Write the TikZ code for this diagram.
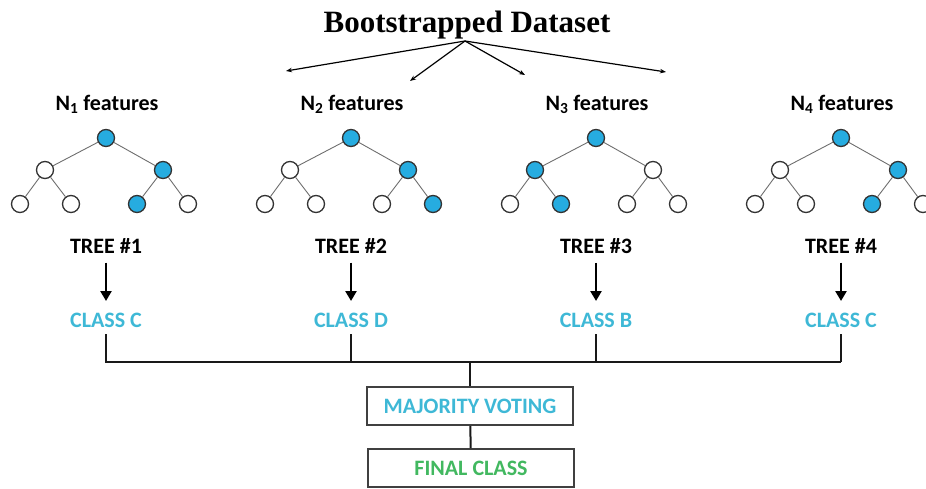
\documentclass[tikz,border=0pt]{standalone}
\usepackage{fontspec}
\setmainfont{Carlito}
\newfontfamily\titlefont{Liberation Serif}
\usetikzlibrary{arrows.meta}
\definecolor{nodeblue}{RGB}{38,172,224}
\definecolor{classblue}{RGB}{62,184,214}
\definecolor{finalgreen}{RGB}{66,184,96}
\definecolor{edgegray}{RGB}{110,110,110}

\begin{document}
\begin{tikzpicture}
[x=1pt,y=-1pt
,fn/.style={circle,draw=black!80,line width=1.3pt,fill=white,minimum size=17pt,inner sep=0pt}
,hit/.style={fn,fill=nodeblue}
,te/.style={draw=edgegray,line width=0.9pt}
,lbl/.style={font=\bfseries\fontsize{22}{24}\selectfont,inner sep=1pt}
,cls/.style={lbl,text=classblue}
,sa/.style={draw=black,line width=1.2pt,arrows={-Stealth[length=6pt,width=4.5pt]}}
,va/.style={draw=black,line width=2.6pt,arrows={-Triangle[length=10pt,width=11pt]}}
,bus/.style={draw=black!90,line width=2pt}
,vbox/.style={draw=black!75,line width=1.6pt,minimum width=206pt,minimum height=38pt,font=\bfseries\fontsize{22}{24}\selectfont}]
\useasboundingbox (0,0) rectangle (926,489);
% title and bootstrap arrows
\node[font=\titlefont\bfseries\fontsize{31}{34}\selectfont] (ds) at (467,25) {Bootstrapped Dataset};
\coordinate (src) at (465,41);
\coordinate (a1) at (286,71);
\coordinate (a2) at (410,81);
\coordinate (a3) at (525,75);
\coordinate (a4) at (666,72);
\draw[sa] (src) -- (a1);
\draw[sa] (src) -- (a2);
\draw[sa] (src) -- (a3);
\draw[sa] (src) -- (a4);
% the four trees
\foreach \i/\x/\cl/\sr/\sl/\sa/\sb/\sc/\sd/\cname in
  {1/104/C/hit/fn/fn/fn/hit/fn/C,
   2/349/D/hit/fn/fn/fn/fn/hit/D,
   3/594/B/fn/hit/fn/hit/fn/fn/B,
   4/839/C/hit/fn/fn/fn/hit/fn/C}{
  \node[lbl] (nf\i) at (\x+3,104) {N\textsubscript{\i} features};
  \node[hit] (t\i) at (\x+2,138) {};
  \node[\sl] (t\i l) at (\x-59,170) {};
  \node[\sr] (t\i r) at (\x+59,170) {};
  \node[\sa] (t\i ll) at (\x-84,204) {};
  \node[\sb] (t\i lr) at (\x-33,204) {};
  \node[\sc] (t\i rl) at (\x+33,204) {};
  \node[\sd] (t\i rr) at (\x+84,204) {};
  \draw[te] (t\i) -- (t\i l);
  \draw[te] (t\i) -- (t\i r);
  \draw[te] (t\i l) -- (t\i ll);
  \draw[te] (t\i l) -- (t\i lr);
  \draw[te] (t\i r) -- (t\i rl);
  \draw[te] (t\i r) -- (t\i rr);
  \node[lbl] (tr\i) at (\x+2,246) {TREE \#\i};
  \node[cls] (cl\i) at (\x+2,320) {CLASS \cname};
  \draw[va] (tr\i.south) ++(0,8) coordinate (tp\i) (tp\i) -- (tp\i |- 0,301);
}
% voting
\coordinate (bus) at (470,362);
\node[vbox,text=classblue] (mv) at (470,406) {MAJORITY VOTING};
\node[vbox,text=finalgreen] (fc) at (471,468) {FINAL CLASS};
\draw[bus] (cl1.south) ++(0,6) -- (cl1 |- bus) -- (cl4 |- bus);
\draw[bus] (cl4.south) ++(0,6) -- (cl4 |- bus);
\draw[bus] (cl2.south) ++(0,6) -- (cl2 |- bus);
\draw[bus] (cl3.south) ++(0,6) -- (cl3 |- bus);
\draw[bus] (bus) -- (mv);
\draw[bus] (mv) -- (fc);
\end{tikzpicture}
\end{document}
